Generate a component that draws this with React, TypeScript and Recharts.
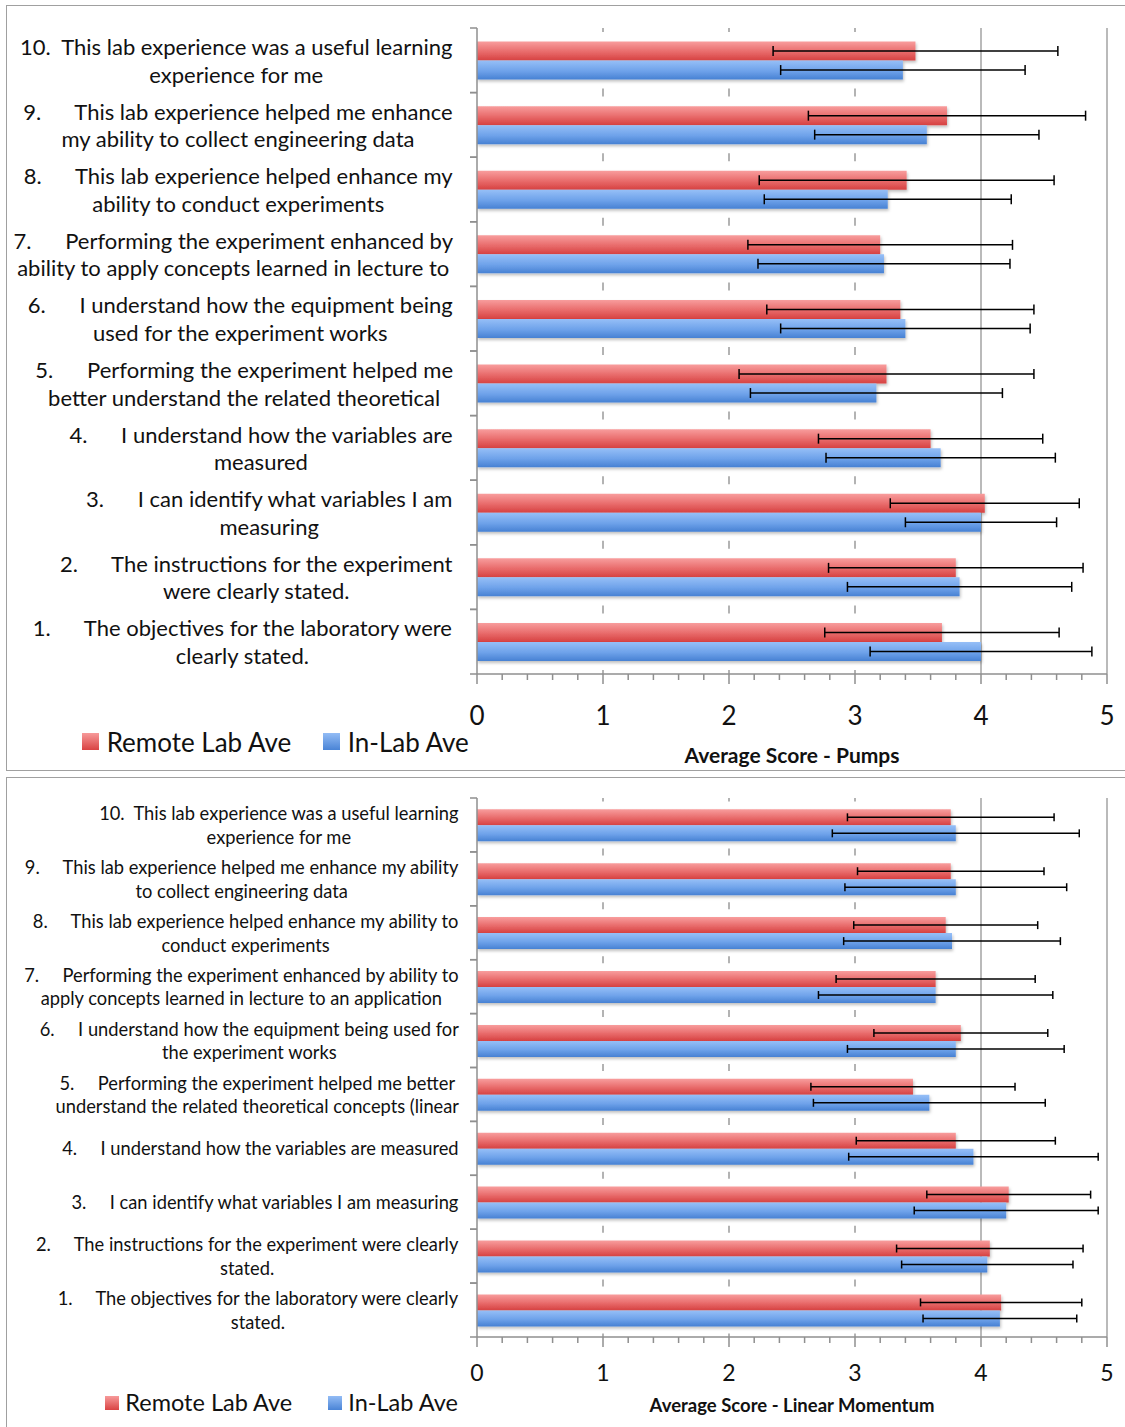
import React from 'react';
import { BarChart, Bar, XAxis, YAxis, CartesianGrid, ErrorBar, Legend } from 'recharts';

// question numbers, top to bottom
const questionIds = ['10', '9', '8', '7', '6', '5', '4', '3', '2', '1'];

const pumpsLabels = [
  ['10.  This lab experience was a useful learning', 'experience for me'],
  ['9.      This lab experience helped me enhance', 'my ability to collect engineering data'],
  ['8.      This lab experience helped enhance my', 'ability to conduct experiments'],
  ['7.      Performing the experiment enhanced by', 'ability to apply concepts learned in lecture to'],
  ['6.      I understand how the equipment being', 'used for the experiment works'],
  ['5.      Performing the experiment helped me', 'better understand the related theoretical'],
  ['4.      I understand how the variables are', 'measured'],
  ['3.      I can identify what variables I am', 'measuring'],
  ['2.      The instructions for the experiment', 'were clearly stated.'],
  ['1.      The objectives for the laboratory were', 'clearly stated.'],
];
const pumpsRemote = [3.48, 3.73, 3.41, 3.2, 3.36, 3.25, 3.6, 4.03, 3.8, 3.69];
const pumpsRemoteErr = [1.13, 1.1, 1.17, 1.05, 1.06, 1.17, 0.89, 0.75, 1.01, 0.93];
const pumpsInLab = [3.38, 3.57, 3.26, 3.23, 3.4, 3.17, 3.68, 4.0, 3.83, 4.0];
const pumpsInLabErr = [0.97, 0.89, 0.98, 1.0, 0.99, 1.0, 0.91, 0.6, 0.89, 0.88];

const momentumLabels = [
  ['10.  This lab experience was a useful learning', 'experience for me'],
  ['9.     This lab experience helped me enhance my ability', 'to collect engineering data'],
  ['8.     This lab experience helped enhance my ability to', 'conduct experiments'],
  ['7.     Performing the experiment enhanced by ability to', 'apply concepts learned in lecture to an application'],
  ['6.     I understand how the equipment being used for', 'the experiment works'],
  ['5.     Performing the experiment helped me better', 'understand the related theoretical concepts (linear'],
  ['4.     I understand how the variables are measured'],
  ['3.     I can identify what variables I am measuring'],
  ['2.     The instructions for the experiment were clearly', 'stated.'],
  ['1.     The objectives for the laboratory were clearly', 'stated.'],
];
const momentumRemote = [3.76, 3.76, 3.72, 3.64, 3.84, 3.46, 3.8, 4.22, 4.07, 4.16];
const momentumRemoteErr = [0.82, 0.74, 0.73, 0.79, 0.69, 0.81, 0.79, 0.65, 0.74, 0.64];
const momentumInLab = [3.8, 3.8, 3.77, 3.64, 3.8, 3.59, 3.94, 4.2, 4.05, 4.15];
const momentumInLabErr = [0.98, 0.88, 0.86, 0.93, 0.86, 0.92, 0.99, 0.73, 0.68, 0.61];

const seriesOrder = ['remote', 'inLab'];
const xTicks = [0, 0.2, 0.4, 0.6, 0.8, 1, 1.2, 1.4, 1.6, 1.8, 2, 2.2, 2.4, 2.6, 2.8, 3, 3.2, 3.4, 3.6, 3.8, 4, 4.2, 4.4, 4.6, 4.8, 5];
const dashedGridValues = [1, 2, 3];
const solidGridValues = [4, 5];

const FONT = 'Lato, "Open Sans", sans-serif';
const AXIS_GRAY = '#8f8f8f';

let measureCtx: CanvasRenderingContext2D | null = null;
function textWidth(s: string, size: number) {
  if (!measureCtx) measureCtx = document.createElement('canvas').getContext('2d');
  if (!measureCtx) return s.length * size * 0.5;
  measureCtx.font = `${size}px Lato`;
  return measureCtx.measureText(s).width;
}

function buildRows(remote: number[], remoteErr: number[], inLab: number[], inLabErr: number[]) {
  return questionIds.map((id, i) => ({
    id,
    remote: remote[i],
    remoteErr: remoteErr[i],
    inLab: inLab[i],
    inLabErr: inLabErr[i],
  }));
}

type PanelProps = {
  id: string;
  top: number;
  height: number;
  marginTop: number;
  marginBottom: number;
  xAxisHeight: number;
  labels: string[][];
  labelSize: number;
  lineHeight: number;
  labelGap: number;
  tickSize: number;
  tickOffset: number;
  title: string;
  titleSize: number;
  titleOffset: number;
  legendSize: number;
  legendTop: number;
  legendItems: number[];
  swatch: number;
  capWidth: number;
  rows: any[];
};

function Panel(p: PanelProps) {
  const n = p.rows.length;

  const YTick = (props: any) => {
    const { x, y, index } = props;
    const plotH = p.height - p.marginTop - p.marginBottom - p.xAxisHeight;
    const band = plotH / n;
    const lines = p.labels[index] || [];
    const widths = lines.map((l) => textWidth(l, p.labelSize));
    const blockW = Math.max(...widths);
    const right = x - p.labelGap;
    const center = right - blockW / 2;
    return (
      <g>
        <line x1={x - 7} x2={x} y1={y - band / 2} y2={y - band / 2} stroke={AXIS_GRAY} strokeWidth={1.5} />
        <line x1={x - 7} x2={x} y1={y + band / 2} y2={y + band / 2} stroke={AXIS_GRAY} strokeWidth={1.5} />
        {lines.map((l, i) => (
          <text
            key={i}
            x={center}
            y={y + (i - (lines.length - 1) / 2) * p.lineHeight}
            textAnchor="middle"
            dominantBaseline="central"
            fontSize={p.labelSize}
            fontFamily={FONT}
            fill="#111"
            style={{ whiteSpace: 'pre' }}
          >
            {l}
          </text>
        ))}
      </g>
    );
  };

  const XTick = (props: any) => {
    const { x, y, payload } = props;
    const v = payload.value;
    const major = Math.abs(v - Math.round(v)) < 1e-6;
    return (
      <g>
        <line x1={x} x2={x} y1={y} y2={y + (major ? 10 : 6)} stroke={AXIS_GRAY} strokeWidth={1.5} />
        {major && (
          <text x={x} y={y + p.tickOffset} textAnchor="middle" dominantBaseline="central" fontSize={p.tickSize} fontFamily={FONT} fill="#111">
            {Math.round(v)}
          </text>
        )}
      </g>
    );
  };

  const dashedLine = (props: any) => {
    const { x1, x2, y1, y2, index } = props;
    const band = (y2 - y1) / n;
    const dash = Math.min(8, band * 0.13);
    return (
      <line
        key={`d${index}`}
        x1={x1}
        x2={x2}
        y1={y1}
        y2={y2}
        stroke="#9a9a9a"
        strokeWidth={1.5}
        strokeDasharray={`${dash} ${band - dash}`}
        strokeDashoffset={dash / 2}
      />
    );
  };

  const renderLegend = (props: any) => {
    const payload = [...(props.payload || [])].sort(
      (a: any, b: any) => seriesOrder.indexOf(a.dataKey) - seriesOrder.indexOf(b.dataKey)
    );
    return (
      <div style={{ position: 'relative', width: 600, height: p.legendSize * 1.2 }}>
        {payload.map((e: any, i: number) => {
          const grad = e.dataKey === 'remote' ? 'linear-gradient(#f79a9a, #d94343)' : 'linear-gradient(#93bcf5, #4a84d6)';
          return (
            <div
              key={i}
              style={{
                position: 'absolute',
                left: p.legendItems[i],
                top: 0,
                height: p.legendSize * 1.2,
                lineHeight: 1,
                display: 'flex',
                alignItems: 'center',
                fontFamily: FONT,
                fontSize: p.legendSize,
                color: '#111',
                whiteSpace: 'nowrap',
              }}
            >
              <span style={{ display: 'inline-block', width: p.swatch, height: p.swatch, background: grad, marginRight: p.swatch * 0.45 }} />
              {e.value}
            </div>
          );
        })}
      </div>
    );
  };

  const titleLabel = (props: any) => {
    const vb = props.viewBox;
    return (
      <text
        x={vb.x + vb.width / 2}
        y={vb.y + p.titleOffset}
        textAnchor="middle"
        dominantBaseline="central"
        fontSize={p.titleSize}
        fontWeight="bold"
        fontFamily={FONT}
        fill="#111"
      >
        {p.title}
      </text>
    );
  };

  return (
    <div style={{ position: 'absolute', left: 0, top: p.top }}>
      <BarChart
        width={1125}
        height={p.height}
        data={p.rows}
        layout="vertical"
        barCategoryGap="21%"
        barGap={0}
        margin={{ top: p.marginTop, right: 18, bottom: p.marginBottom, left: 0 }}
      >
        <defs>
          <linearGradient id={`${p.id}-red`} x1="0" y1="0" x2="0" y2="1">
            <stop offset="0%" stopColor="#f89d9d" />
            <stop offset="55%" stopColor="#e86a6a" />
            <stop offset="100%" stopColor="#d64141" />
          </linearGradient>
          <linearGradient id={`${p.id}-blue`} x1="0" y1="0" x2="0" y2="1">
            <stop offset="0%" stopColor="#96bff7" />
            <stop offset="55%" stopColor="#6ea2ea" />
            <stop offset="100%" stopColor="#4781d3" />
          </linearGradient>
          <filter id={`${p.id}-shadow`} x="-5%" y="-20%" width="110%" height="160%">
            <feDropShadow dx="1" dy="2" stdDeviation="1.5" floodColor="#000" floodOpacity="0.25" />
          </filter>
        </defs>
        <CartesianGrid horizontal={false} verticalValues={dashedGridValues} vertical={dashedLine} />
        <CartesianGrid horizontal={false} verticalValues={solidGridValues} stroke="#a3a3a3" strokeWidth={1.5} />
        <XAxis
          type="number"
          domain={[0, 5]}
          ticks={xTicks}
          interval={0}
          height={p.xAxisHeight}
          tickLine={false}
          tickSize={0}
          tickMargin={0}
          tick={<XTick />}
          axisLine={{ stroke: AXIS_GRAY, strokeWidth: 1.5 }}
          label={titleLabel}
        />
        <YAxis
          type="category"
          dataKey="id"
          width={477}
          interval={0}
          tickLine={false}
          tickSize={0}
          tickMargin={0}
          tick={<YTick />}
          axisLine={{ stroke: AXIS_GRAY, strokeWidth: 1.5 }}
        />
        <Legend
          layout="horizontal"
          verticalAlign="middle"
          align="center"
          content={renderLegend}
          wrapperStyle={{ left: 0, top: p.legendTop, width: 600 }}
        />
        <Bar dataKey="remote" name="Remote Lab Ave" fill={`url(#${p.id}-red)`} filter={`url(#${p.id}-shadow)`} isAnimationActive={false}>
          <ErrorBar dataKey="remoteErr" direction="x" width={p.capWidth} stroke="#000" strokeWidth={1.5} />
        </Bar>
        <Bar dataKey="inLab" name="In-Lab Ave" fill={`url(#${p.id}-blue)`} filter={`url(#${p.id}-shadow)`} isAnimationActive={false}>
          <ErrorBar dataKey="inLabErr" direction="x" width={p.capWidth} stroke="#000" strokeWidth={1.5} />
        </Bar>
      </BarChart>
    </div>
  );
}

export default function App() {
  const pumpsRows = buildRows(pumpsRemote, pumpsRemoteErr, pumpsInLab, pumpsInLabErr);
  const momentumRows = buildRows(momentumRemote, momentumRemoteErr, momentumInLab, momentumInLabErr);
  return (
    <div style={{ position: 'absolute', left: 0, top: 0, width: 1125, height: 1427, background: '#fff', overflow: 'hidden' }}>
      <div style={{ position: 'absolute', left: 6, top: 5, width: 1130, height: 766, border: '1.5px solid #a0a0a0', boxSizing: 'border-box' }} />
      <div style={{ position: 'absolute', left: 6, top: 777, width: 1130, height: 660, border: '1.5px solid #a0a0a0', boxSizing: 'border-box' }} />
      <Panel
        id="pumps"
        top={0}
        height={772}
        marginTop={28}
        marginBottom={38}
        xAxisHeight={60}
        labels={pumpsLabels}
        labelSize={22}
        lineHeight={27.5}
        labelGap={24}
        tickSize={26}
        tickOffset={41}
        title="Average Score - Pumps"
        titleSize={21}
        titleOffset={80}
        legendSize={26}
        legendTop={726}
        legendItems={[82, 323]}
        swatch={17}
        capWidth={5}
        rows={pumpsRows}
      />
      <Panel
        id="momentum"
        top={778}
        height={649}
        marginTop={20}
        marginBottom={35}
        xAxisHeight={55}
        labels={momentumLabels}
        labelSize={18.3}
        lineHeight={23.5}
        labelGap={18}
        tickSize={23}
        tickOffset={35}
        title="Average Score - Linear Momentum"
        titleSize={18.5}
        titleOffset={68}
        legendSize={23.5}
        legendTop={611}
        legendItems={[105, 328]}
        swatch={14}
        capWidth={4}
        rows={momentumRows}
      />
    </div>
  );
}
